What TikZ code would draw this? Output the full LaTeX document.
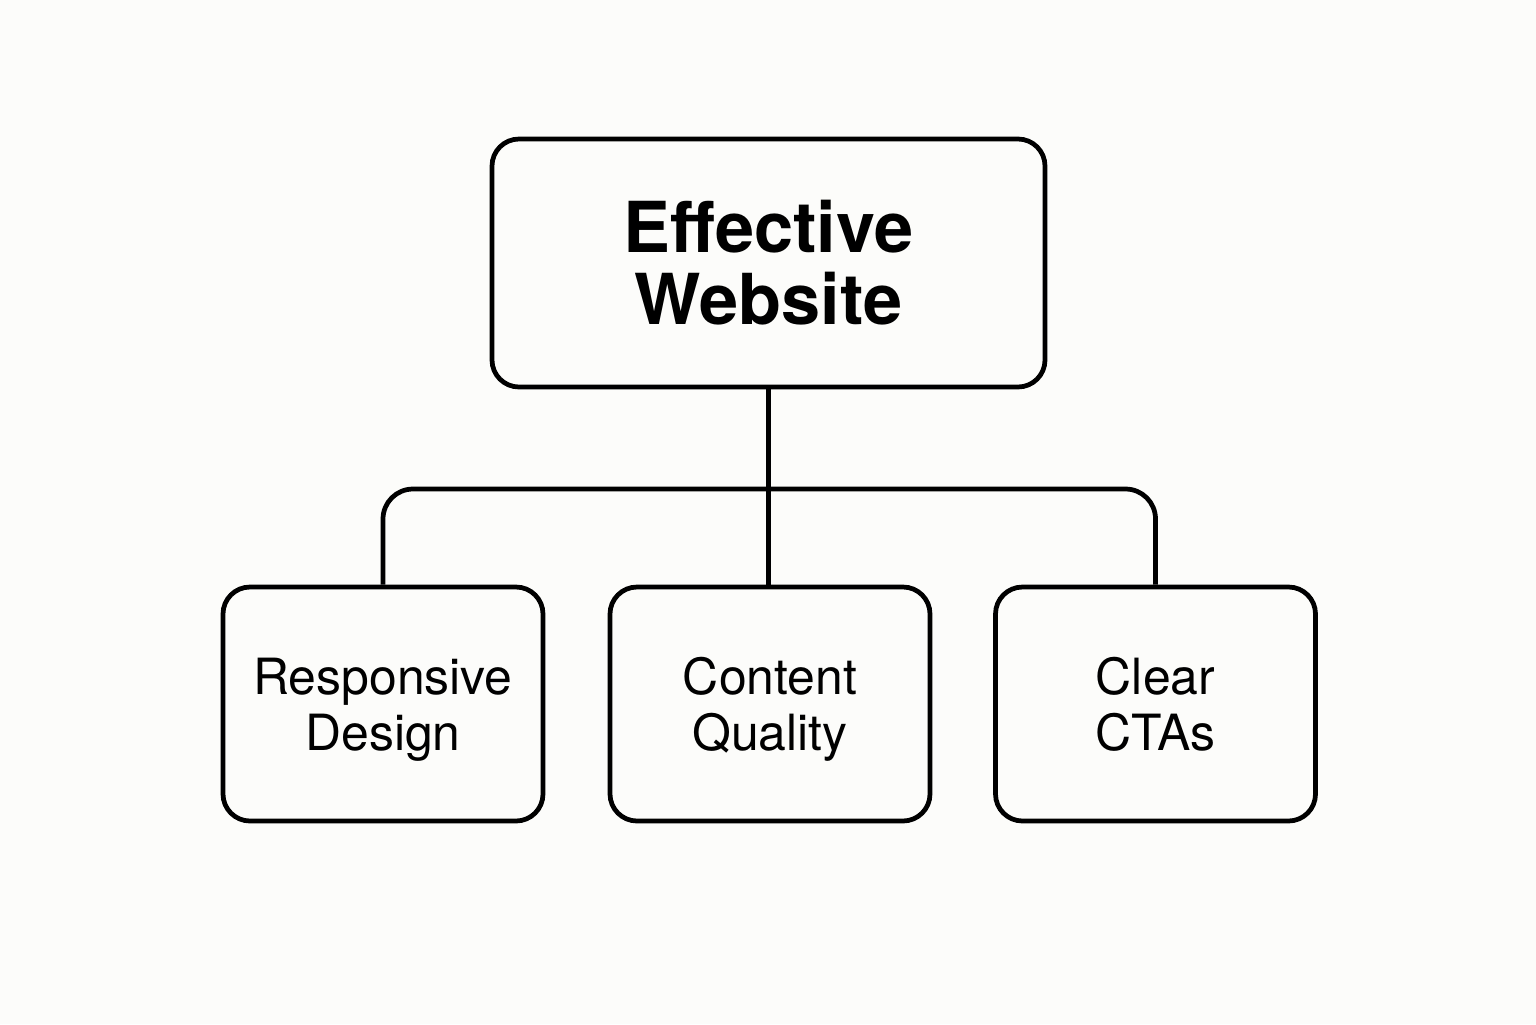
\documentclass[tikz,border=0pt]{standalone}
\usepackage{fontspec}
\setmainfont{TeX Gyre Heros}
\definecolor{paper}{HTML}{FCFCFA}

\begin{document}
\begin{tikzpicture}[line width=1.35pt,
    box/.style={draw, fill=paper, rounded corners=.27cm, align=center, inner sep=0pt},
    leaf/.style={box, minimum width=3.2cm, minimum height=2.34cm, text depth=0pt, font=\fontsize{14.2}{16}\selectfont}]
            \fill[paper] (0, 0) rectangle (15.36, -10.24);
            \useasboundingbox (0, 0) rectangle (15.36, -10.24);
            \node[box, minimum width=5.53cm, minimum height=2.48cm, font=\bfseries\fontsize{20}{20.5}\selectfont] (web) at (7.685, -2.63){Effective\\Website};
            \node[leaf] (resp) at (3.83, -7.04){Responsive\\Design};
            \node[leaf] (cont) at (7.70, -7.04){Content\\Quality};
            \node[leaf] (cta) at (11.555, -7.04){Clear\\CTAs};
            \coordinate (bar) at (7.69, -4.89);   % horizontal bar
            \draw (web.south) -- (web.south |- cont.north);
            \draw[rounded corners=.3cm] (resp.north) |- (bar) -| (cta.north);
        \end{tikzpicture}
\end{document}
